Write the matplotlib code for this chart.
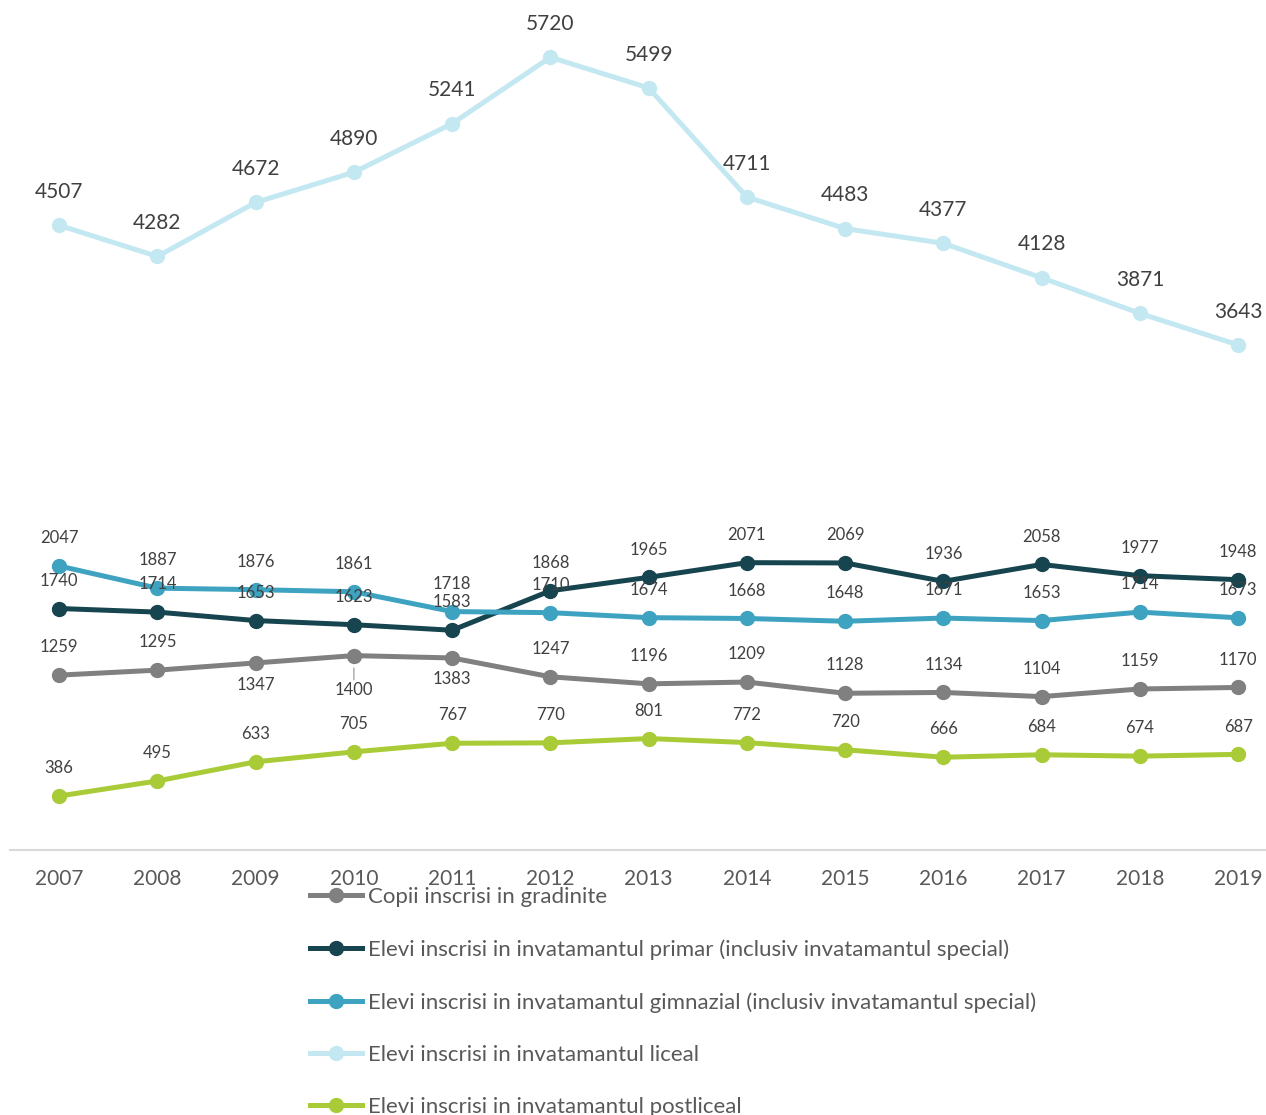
import matplotlib
matplotlib.use("Agg")
import matplotlib.pyplot as plt
from matplotlib.lines import Line2D

plt.rcParams['font.family'] = ['Lato', 'DejaVu Sans']

years = ['2007', '2008', '2009', '2010', '2011', '2012', '2013',
         '2014', '2015', '2016', '2017', '2018', '2019']
gradinite = [1259, 1295, 1347, 1400, 1383, 1247, 1196, 1209, 1128, 1134, 1104, 1159, 1170]
primar = [1740, 1714, 1653, 1623, 1583, 1868, 1965, 2071, 2069, 1936, 2058, 1977, 1948]
gimnazial = [2047, 1887, 1876, 1861, 1718, 1710, 1674, 1668, 1648, 1671, 1653, 1714, 1673]
liceal = [4507, 4282, 4672, 4890, 5241, 5720, 5499, 4711, 4483, 4377, 4128, 3871, 3643]
postliceal = [386, 495, 633, 705, 767, 770, 801, 772, 720, 666, 684, 674, 687]

names = ['Copii inscrisi in gradinite',
         'Elevi inscrisi in invatamantul primar (inclusiv invatamantul special)',
         'Elevi inscrisi in invatamantul gimnazial (inclusiv invatamantul special)',
         'Elevi inscrisi in invatamantul liceal',
         'Elevi inscrisi in invatamantul postliceal']
colors = ['#808080', '#17454f', '#3ea3c0', '#c3e8f1', '#a9cb37']
series = [gradinite, primar, gimnazial, liceal, postliceal]

# label placement: offsets in points (positive = above)
gr_off = [20, 20, -16, -25, -15, 20, 20, 20, 20, 20, 20, 20, 20]

W, H = 1266, 1115
fig = plt.figure(figsize=(W / 100, H / 100), dpi=100)
left_px, right_px = 10, 10 + 13 * 98.25
bottom_px, top_px = 849.5, 849.5 - 6000 * 0.1385
ax = fig.add_axes([left_px / W, (H - bottom_px) / H,
                   (right_px - left_px) / W, (bottom_px - top_px) / H])
ax.set_xlim(-0.5, 12.5)
ax.set_ylim(0, 6000)

x = list(range(len(years)))
for vals, c in zip(series, colors):
    ax.plot(x, vals, color=c, lw=3.6, marker='o', ms=10, solid_capstyle='round',
            zorder=3, clip_on=False)

txt_col = '#404040'
for i, v in enumerate(liceal):
    ax.annotate(str(v), (i, v), xytext=(0, 24), textcoords='offset points',
                ha='center', va='center', fontsize=15, color=txt_col)
for vals in (primar, gimnazial, postliceal):
    for i, v in enumerate(vals):
        ax.annotate(str(v), (i, v), xytext=(0, 20), textcoords='offset points',
                    ha='center', va='center', fontsize=12, color=txt_col)
for i, v in enumerate(gradinite):
    if i == 3:
        ax.annotate(str(v), (i, v), xytext=(0, gr_off[i]), textcoords='offset points',
                    ha='center', va='center', fontsize=12, color=txt_col,
                    arrowprops=dict(arrowstyle='-', color='#a6a6a6', lw=1,
                                    shrinkA=0, shrinkB=9))
    else:
        ax.annotate(str(v), (i, v), xytext=(0, gr_off[i]), textcoords='offset points',
                    ha='center', va='center', fontsize=12, color=txt_col)

for s in ['left', 'right', 'top']:
    ax.spines[s].set_visible(False)
ax.spines['bottom'].set_color('#d9d9d9')
ax.spines['bottom'].set_linewidth(1.5)
ax.set_yticks([])
ax.set_xticks(x)
ax.set_xticklabels(years, fontsize=15, color='#595959')
ax.tick_params(axis='x', length=0, pad=14)

handles = [Line2D([0], [0], color=c, lw=3.6, marker='o', ms=10) for c in colors]
fig.legend(handles, names, loc='upper left',
           bbox_to_anchor=(310 / W, (H - 887) / H), frameon=False,
           fontsize=16, labelcolor='#595959', handlelength=2.35,
           handletextpad=0.25, labelspacing=1.45, borderpad=0, borderaxespad=0)

fig.savefig('out.png', dpi=100)
